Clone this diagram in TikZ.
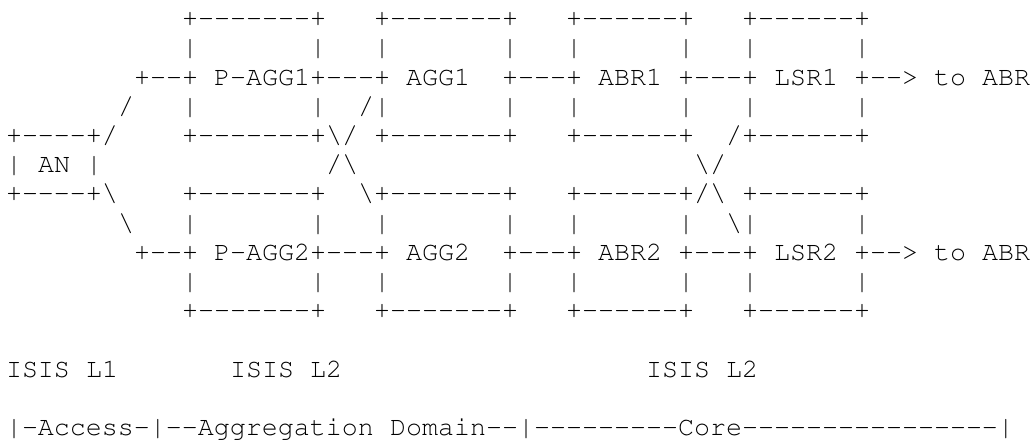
\documentclass[tikz,border=0pt]{standalone}
\usepackage[T1]{fontenc}
\usepackage{courier}
\usepackage{tikz}

% every run of characters sits on a fixed grid: 8pt per column, 14.6pt per row
\tikzset{
  mono/.style={anchor=base west, inner sep=0pt, outer sep=0pt, text=black,
    font=\fontsize{13.333pt}{14.6pt}\selectfont\ttfamily}
}
\newcommand\asciirun[4]{%
  \node[mono] (#1) at ({(3+8*#2)*1pt},{-(13.35+14.6*#3)*1pt}) {#4};}
\newcommand\bs{\textbackslash}
% n plain hyphens, kept apart so that no dash ligature forms
\newcommand\nhy[1]{\ifnum#1>0 -{}\expandafter\nhy\expandafter{\the\numexpr#1-1\relax}\fi}

\begin{document}
\begin{tikzpicture}
\useasboundingbox (0,0) rectangle (518pt,-220.5pt);
\fill[white] (0,0) rectangle (518pt,-220.5pt);

% row 0: tops of the upper boxes
\asciirun{pagg1top}{11}{0}{+\nhy{7}+}
\asciirun{agg1top}{23}{0}{+\nhy{7}+}
\asciirun{abr1top}{35}{0}{+\nhy{6}+}
\asciirun{lsr1top}{46}{0}{+\nhy{6}+}

% row 1
\asciirun{ra1}{11}{1}{|}
\asciirun{ra2}{19}{1}{|}
\asciirun{ra3}{23}{1}{|}
\asciirun{ra4}{31}{1}{|}
\asciirun{ra5}{35}{1}{|}
\asciirun{ra6}{42}{1}{|}
\asciirun{ra7}{46}{1}{|}
\asciirun{ra8}{53}{1}{|}

% row 2: upper chain
\asciirun{upin}{8}{2}{+\nhy{2}+}
\asciirun{pagg1}{13}{2}{P-{}AGG1+\nhy{3}+}
\asciirun{agg1}{25}{2}{AGG1}
\asciirun{agg1abr1}{31}{2}{+\nhy{3}+}
\asciirun{abr1}{37}{2}{ABR1}
\asciirun{abr1lsr1}{42}{2}{+\nhy{3}+}
\asciirun{lsr1}{48}{2}{LSR1}
\asciirun{lsr1out}{53}{2}{+\nhy{2}>}
\asciirun{toa}{58}{2}{to}
\asciirun{abra}{61}{2}{ABR}

% row 3
\asciirun{upslash}{7}{3}{/}
\asciirun{rb1}{11}{3}{|}
\asciirun{rb2}{19}{3}{|}
\asciirun{rb3}{22}{3}{/|}
\asciirun{rb4}{31}{3}{|}
\asciirun{rb5}{35}{3}{|}
\asciirun{rb6}{42}{3}{|}
\asciirun{rb7}{46}{3}{|}
\asciirun{rb8}{53}{3}{|}

% row 4: AN top, bottoms of upper boxes
\asciirun{antop}{0}{4}{+\nhy{4}+/}
\asciirun{pagg1bot}{11}{4}{+\nhy{7}+\bs/}
\asciirun{agg1bot}{23}{4}{+\nhy{7}+}
\asciirun{abr1bot}{35}{4}{+\nhy{6}+}
\asciirun{lsr1bot}{45}{4}{/+\nhy{6}+}

% row 5: AN and the two crossings
\asciirun{anl}{0}{5}{|}
\asciirun{an}{2}{5}{AN}
\asciirun{anr}{5}{5}{|}
\asciirun{crossa}{20}{5}{/\bs}
\asciirun{crossb}{43}{5}{\bs/}

% row 6: AN bottom, tops of lower boxes
\asciirun{anbot}{0}{6}{+\nhy{4}+\bs}
\asciirun{pagg2top}{11}{6}{+\nhy{7}+}
\asciirun{agg2top}{22}{6}{\bs+\nhy{7}+}
\asciirun{abr2top}{35}{6}{+\nhy{6}+/\bs}
\asciirun{lsr2top}{46}{6}{+\nhy{6}+}

% row 7
\asciirun{lowslash}{7}{7}{\bs}
\asciirun{rc1}{11}{7}{|}
\asciirun{rc2}{19}{7}{|}
\asciirun{rc3}{23}{7}{|}
\asciirun{rc4}{31}{7}{|}
\asciirun{rc5}{35}{7}{|}
\asciirun{rc6}{42}{7}{|}
\asciirun{rc7}{45}{7}{\bs|}
\asciirun{rc8}{53}{7}{|}

% row 8: lower chain
\asciirun{lowin}{8}{8}{+\nhy{2}+}
\asciirun{pagg2}{13}{8}{P-{}AGG2+\nhy{3}+}
\asciirun{agg2}{25}{8}{AGG2}
\asciirun{agg2abr2}{31}{8}{+\nhy{3}+}
\asciirun{abr2}{37}{8}{ABR2}
\asciirun{abr2lsr2}{42}{8}{+\nhy{3}+}
\asciirun{lsr2}{48}{8}{LSR2}
\asciirun{lsr2out}{53}{8}{+\nhy{2}>}
\asciirun{tob}{58}{8}{to}
\asciirun{abrb}{61}{8}{ABR}

% row 9
\asciirun{rd1}{11}{9}{|}
\asciirun{rd2}{19}{9}{|}
\asciirun{rd3}{23}{9}{|}
\asciirun{rd4}{31}{9}{|}
\asciirun{rd5}{35}{9}{|}
\asciirun{rd6}{42}{9}{|}
\asciirun{rd7}{46}{9}{|}
\asciirun{rd8}{53}{9}{|}

% row 10: bottoms of lower boxes
\asciirun{pagg2bot}{11}{10}{+\nhy{7}+}
\asciirun{agg2bot}{23}{10}{+\nhy{7}+}
\asciirun{abr2bot}{35}{10}{+\nhy{6}+}
\asciirun{lsr2bot}{46}{10}{+\nhy{6}+}

% row 12: IS-IS levels
\asciirun{isisa}{0}{12}{ISIS}
\asciirun{lva}{5}{12}{L1}
\asciirun{isisb}{14}{12}{ISIS}
\asciirun{lvb}{19}{12}{L2}
\asciirun{isisc}{40}{12}{ISIS}
\asciirun{lvc}{45}{12}{L2}

% row 14: domain ruler
\asciirun{domleft}{0}{14}{|-{}Access-{}|\nhy{2}Aggregation}
\asciirun{domright}{24}{14}{Domain\nhy{2}|\nhy{9}Core\nhy{16}|}
\end{tikzpicture}
\end{document}
